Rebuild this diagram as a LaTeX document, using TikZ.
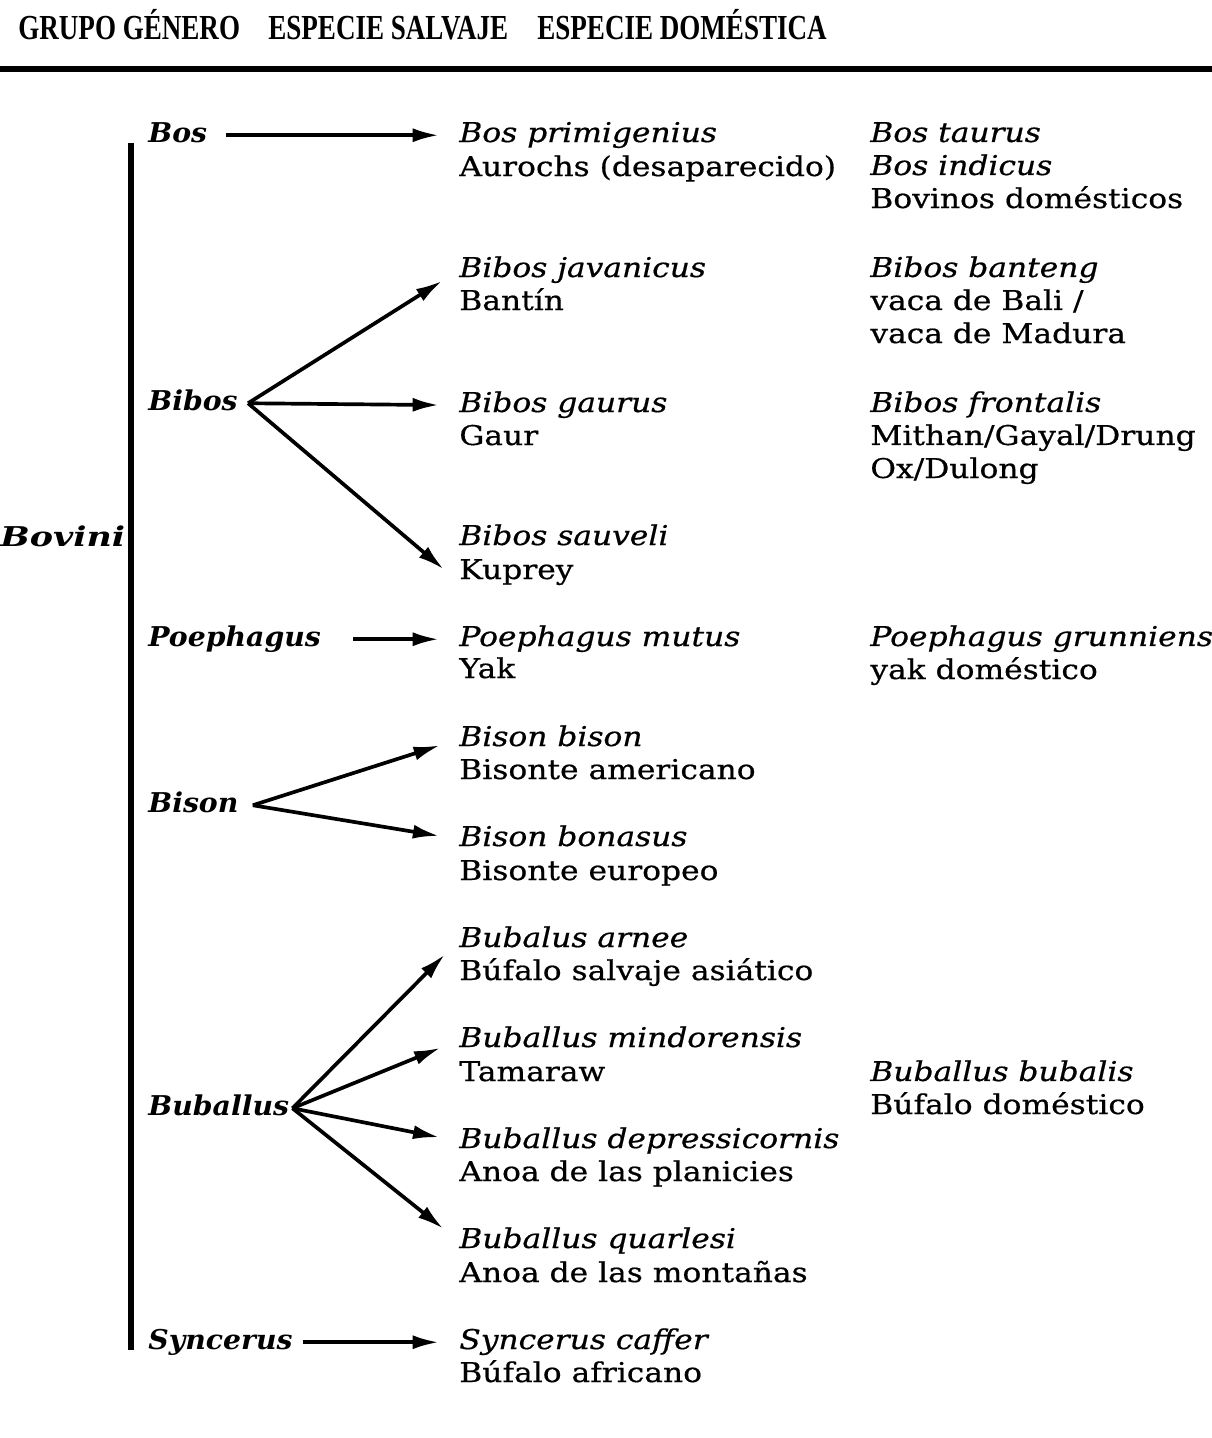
\documentclass[tikz,border=0pt]{standalone}
\usepackage{fontspec}
\setmainfont{DejaVu Serif}[FakeStretch=1.15,FakeBold=0.6]
\newfontfamily\genfont{DejaVu Serif}[FakeStretch=1.04]
\newfontfamily\bovfont{DejaVu Serif}[FakeStretch=1.28]
\newfontfamily\headfont{Liberation Serif}[FakeStretch=0.77]
\usetikzlibrary{arrows.meta}
\newcommand\spfont{\fontsize{15.5pt}{18.8pt}\selectfont}

\begin{document}
\begin{tikzpicture}[x=0.02cm,y=-0.02cm,
  genus/.style={anchor=base west,inner sep=0pt,text height=11.6pt,text depth=3.9pt,
                font=\genfont\spfont\bfseries\itshape},
  wild/.style={anchor=base west,inner sep=0pt,text height=11.6pt,text depth=3.9pt,
               font=\spfont\itshape},
  common/.style={anchor=base west,inner sep=0pt,font=\spfont},
  domestic/.style={anchor=base west,inner sep=0pt,align=left,font=\spfont},
  head/.style={anchor=base west,inner sep=0pt,font=\headfont\bfseries\fontsize{20pt}{20pt}\selectfont},
  arr/.style={-{Latex[length=15pt,width=8pt]},line width=2.1pt,shorten >=0.4cm},
  rule/.style={line width=3.2pt},
]
\useasboundingbox (0,0) rectangle (1212,1438);

% Column heads
\node[head] (hgen) at (18,39) {GRUPO GÉNERO};
\node[head] (hwild) at (268,39) {ESPECIE SALVAJE};
\node[head] (hdom) at (537,39) {ESPECIE DOMÉSTICA};
\draw[rule] (0,69) -- (1212,69);

% Tribe
\node[genus,font=\bovfont\spfont\bfseries\itshape] (bovini) at (0,546) {Bovini};
\draw[rule] (131,143) -- (131,1350);

% Genera
\node[genus] (bos) at (148,142) {Bos};
\node[genus] (bibos) at (148,410) {Bibos};
\node[genus] (poeph) at (148,646) {Poephagus};
\node[genus] (bison) at (148,812) {Bison};
\node[genus] (buba) at (148,1115) {Buballus};
\node[genus] (sync) at (148,1349) {Syncerus};

\coordinate (bosF) at ([xshift=0.38cm]bos.east);
\coordinate (bibosF) at ([xshift=0.2cm]bibos.east);
\coordinate (poephF) at ([xshift=0.64cm]poeph.east);
\coordinate (bisonF) at ([xshift=0.28cm]bison.east);
\coordinate (bubaF) at ([xshift=0.06cm]buba.east);
\coordinate (syncF) at ([xshift=0.2cm]sync.east);

% Wild species
\node[wild] (bprim) at (459,142) {Bos primigenius};
\node[common] (bprimN) at (459,176) {Aurochs (desaparecido)};
\node[wild] (bjav) at (459,277) {Bibos javanicus};
\node[common] (bjavN) at (459,310) {Bantín};
\node[wild] (bgau) at (459,412) {Bibos gaurus};
\node[common] (bgauN) at (459,445) {Gaur};
\node[wild] (bsau) at (459,545) {Bibos sauveli};
\node[common,text height=11.6pt,text depth=3.9pt] (bsauN) at (459,579) {Kuprey};
\node[wild] (pmut) at (459,646) {Poephagus mutus};
\node[common] (pmutN) at (459,678) {Yak};
\node[wild] (bbis) at (459,746) {Bison bison};
\node[common] (bbisN) at (459,779) {Bisonte americano};
\node[wild] (bbon) at (459,846) {Bison bonasus};
\node[common] (bbonN) at (459,880) {Bisonte europeo};
\node[wild] (barn) at (459,947) {Bubalus arnee};
\node[common] (barnN) at (459,980) {Búfalo salvaje asiático};
\node[wild] (bmin) at (459,1047) {Buballus mindorensis};
\node[common] (bminN) at (459,1081) {Tamaraw};
\node[wild] (bdep) at (459,1148) {Buballus depressicornis};
\node[common] (bdepN) at (459,1181) {Anoa de las planicies};
\node[wild] (bqua) at (459,1248) {Buballus quarlesi};
\node[common] (bquaN) at (459,1282) {Anoa de las montañas};
\node[wild] (scaf) at (459,1349) {Syncerus caffer};
\node[common] (scafN) at (459,1382) {Búfalo africano};

% Domestic species (base = last line)
\node[domestic] (dbos) at (870,208) {\textit{Bos taurus}\\\textit{Bos indicus}\\Bovinos domésticos};
\node[domestic] (dbant) at (870,343) {\textit{Bibos banteng}\\vaca de Bali /\\vaca de Madura};
\node[domestic] (dfron) at (870,478) {\textit{Bibos frontalis}\\Mithan/Gayal/Drung\\Ox/Dulong};
\node[domestic] (dgrun) at (870,679) {\textit{Poephagus grunniens}\\yak doméstico};
\node[domestic] (dbub) at (870,1114) {\textit{Buballus bubalis}\\Búfalo doméstico};

% Arrows genus -> wild species
\draw[arr] (bosF) -- (bprim.west);
\draw[arr] (bibosF) -- (bjav.west);
\draw[arr] (bibosF) -- (bgau.west);
\draw[arr] (bibosF) -- ([yshift=-0.2cm]bsauN.west);
\draw[arr] (poephF) -- (pmut.west);
\draw[arr] (bisonF) -- (bbis.west);
\draw[arr] (bisonF) -- (bbon.west);
\draw[arr] (bubaF) -- (barn.west);
\draw[arr] (bubaF) -- (bmin.west);
\draw[arr] (bubaF) -- (bdep.west);
\draw[arr] (bubaF) -- (bqua.west);
\draw[arr] (syncF) -- (scaf.west);

\end{tikzpicture}
\end{document}
